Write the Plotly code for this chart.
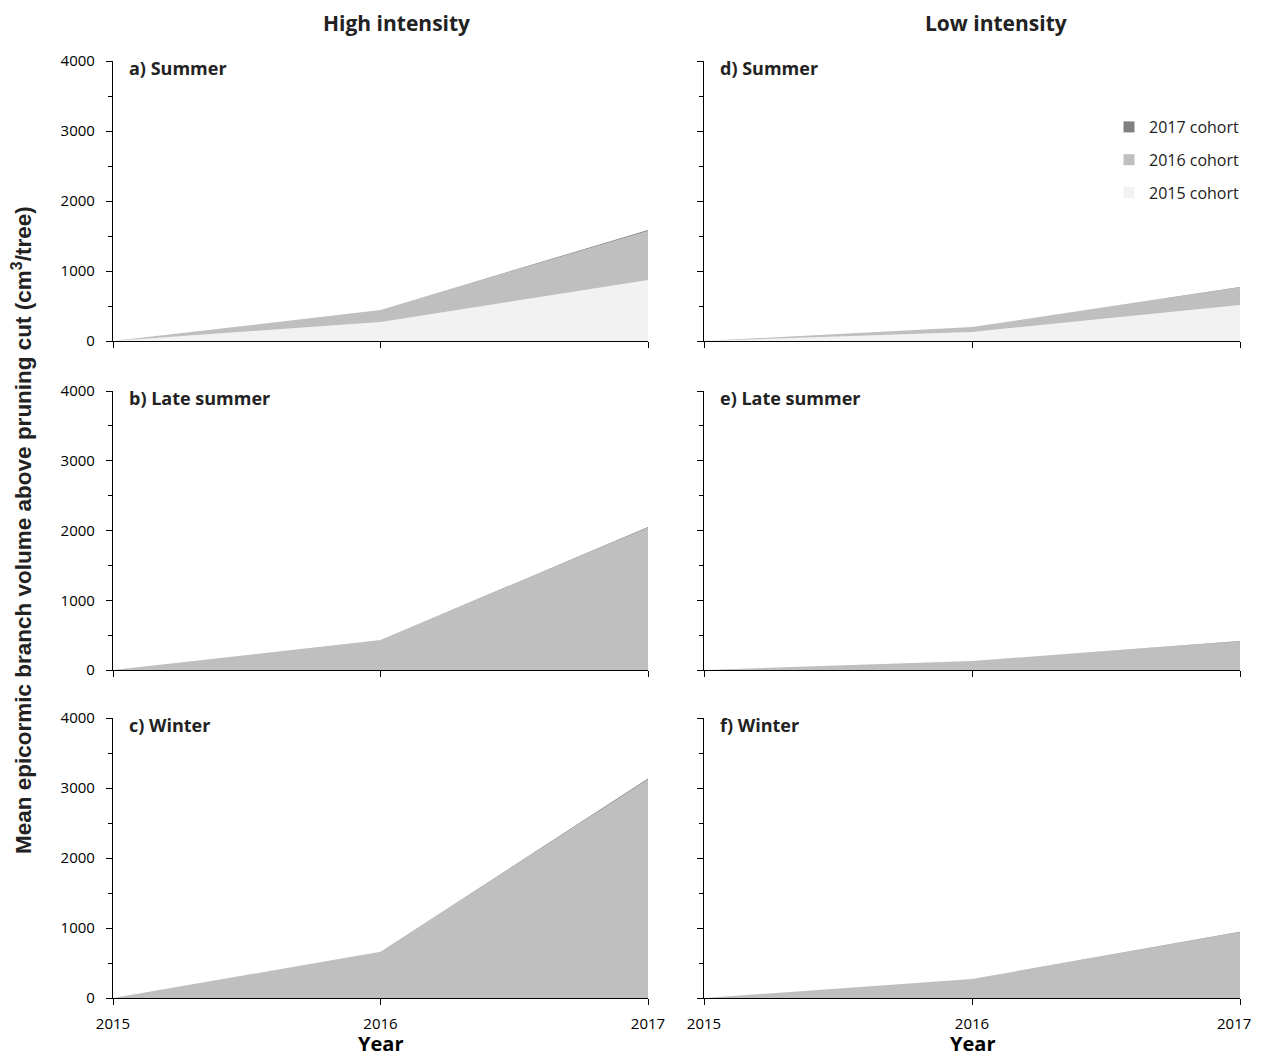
import plotly.graph_objects as go

years = [2015, 2016, 2017]

# panels
panel_labels = ["a) Summer", "b) Late summer", "c) Winter",
                "d) Summer", "e) Late summer", "f) Winter"]

# cohort values per panel (cm3/tree)
cohort_2015 = {
    "a": [0, 271, 871], "b": [0, 0, 0], "c": [0, 0, 0],
    "d": [0, 129, 514], "e": [0, 0, 0], "f": [0, 0, 0],
}
cohort_2016 = {
    "a": [0, 172, 700], "b": [0, 430, 2040], "c": [0, 660, 3120],
    "d": [0, 71, 252], "e": [0, 130, 410], "f": [0, 270, 940],
}
cohort_2017 = {
    "a": [0, 0, 15], "b": [0, 0, 10], "c": [0, 0, 15],
    "d": [0, 0, 5], "e": [0, 0, 5], "f": [0, 0, 5],
}

series_names = ["2015 cohort", "2016 cohort", "2017 cohort"]
series_colors = ["#F2F2F2", "#BFBFBF", "#808080"]
series_data = [cohort_2015, cohort_2016, cohort_2017]

y_ticks = [0, 1000, 2000, 3000, 4000]
x_ticks = [2015, 2016, 2017]
x_tick_labels = ["2015", "2016", "2017"]
col_titles = ["High intensity", "Low intensity"]
x_title = "Year"

OFF = 8  # page body margin
W, H = 1262 - 2 * OFF, 1063 - 2 * OFF
col_px = [(113, 648), (704, 1240)]
row_px = [(61, 341), (391, 670), (718, 998)]

def px_x(p):
    return (p - OFF) / W

def px_y(p):
    return 1 - (p - OFF) / H

fig = go.Figure()
keys = ["a", "b", "c", "d", "e", "f"]
font_main = "Open Sans, Noto Sans, sans-serif"

for i, k in enumerate(keys):
    col = i // 3
    row = i % 3
    n = i + 1
    xa = "x" if n == 1 else f"x{n}"
    ya = "y" if n == 1 else f"y{n}"
    for name, color, data in zip(series_names, series_colors, series_data):
        fig.add_trace(go.Scatter(
            x=years, y=data[k], name=name, mode="lines",
            line=dict(width=0, color=color), fillcolor=color,
            stackgroup=f"g{n}", xaxis=xa, yaxis=ya,
            showlegend=False, hoverinfo="skip",
        ))
    ttext = list(x_tick_labels)
    if col == 1:
        # keep the right-most label inside the page
        ttext[-1] = ttext[-1] + "\u00a0\u00a0\u00a0"
    axx = dict(domain=[px_x(col_px[col][0]), px_x(col_px[col][1])], range=[2015, 2017],
               tickvals=x_ticks, ticktext=ttext, showticklabels=(row == 2),
               ticks="outside", ticklen=6,
               tickcolor="#000", showline=True, linecolor="#000", linewidth=1.2,
               showgrid=False, zeroline=False, anchor=ya, automargin=False,
               ticklabelstandoff=6, ticklabeloverflow="allow",
               tickfont=dict(size=15, color="#000", family=font_main))
    axy = dict(domain=[px_y(row_px[row][1]), px_y(row_px[row][0])], range=[0, 4000],
               tickvals=y_ticks, showticklabels=(col == 0), ticks="outside", ticklen=6,
               tickcolor="#000",
               minor=dict(dtick=500, ticks="outside", ticklen=4, tickcolor="#000"),
               showline=True, linecolor="#000", linewidth=1.2, showgrid=False, zeroline=False,
               anchor=xa, automargin=False, ticklabelstandoff=8,
               tickfont=dict(size=15, color="#000", family=font_main))
    fig.layout["xaxis" if n == 1 else f"xaxis{n}"] = axx
    fig.layout["yaxis" if n == 1 else f"yaxis{n}"] = axy
    fig.add_annotation(text=f"<b>{panel_labels[i]}</b>", xref="paper", yref="paper",
                       x=px_x(col_px[col][0] + 14), y=px_y(row_px[row][0] + 7),
                       xanchor="left", yanchor="middle", showarrow=False,
                       font=dict(size=18, color="#222", family=font_main))

# legend-only square markers (legend sits in panel d), listed 2017 first
for name, color in reversed(list(zip(series_names, series_colors))):
    fig.add_trace(go.Scatter(
        x=[None], y=[None], name=name, mode="markers",
        marker=dict(symbol="square", size=11, color=color),
        xaxis="x4", yaxis="y4", showlegend=True, legendgroup=name,
    ))

title_centers = [396, 996]
for c, t in enumerate(col_titles):
    fig.add_annotation(text=f"<b>{t}</b>", xref="paper", yref="paper",
                       x=px_x(title_centers[c]), y=px_y(22.5),
                       xanchor="center", yanchor="middle", showarrow=False,
                       font=dict(size=21, color="#222", family=font_main))
    # x-axis title under each column
    fig.add_annotation(text=f"<b>{x_title}</b>", xref="paper", yref="paper",
                       x=px_x(sum(col_px[c]) / 2), y=0, yshift=-4,
                       xanchor="center", yanchor="bottom", showarrow=False,
                       font=dict(size=20, color="#000", family=font_main))

fig.add_annotation(text="<b>Mean epicormic branch volume above pruning cut (cm<sup>3</sup>/tree)</b>",
                   xref="paper", yref="paper", x=px_x(22), y=px_y(530), textangle=-90,
                   xanchor="center", yanchor="middle", showarrow=False,
                   font=dict(size=22.5, color="#222", family="Liberation Sans, Arial, sans-serif"))

fig.update_layout(
    width=W, height=H, margin=dict(l=0, r=0, t=0, b=0, autoexpand=False),
    paper_bgcolor="white", plot_bgcolor="white",
    legend=dict(x=px_x(1245), y=px_y(110), xanchor="right", yanchor="top",
                traceorder="grouped", font=dict(size=16, color="#222", family=font_main),
                tracegroupgap=9, bgcolor="rgba(0,0,0,0)", itemwidth=30),
    showlegend=True,
)

fig.write_html("out.html")
